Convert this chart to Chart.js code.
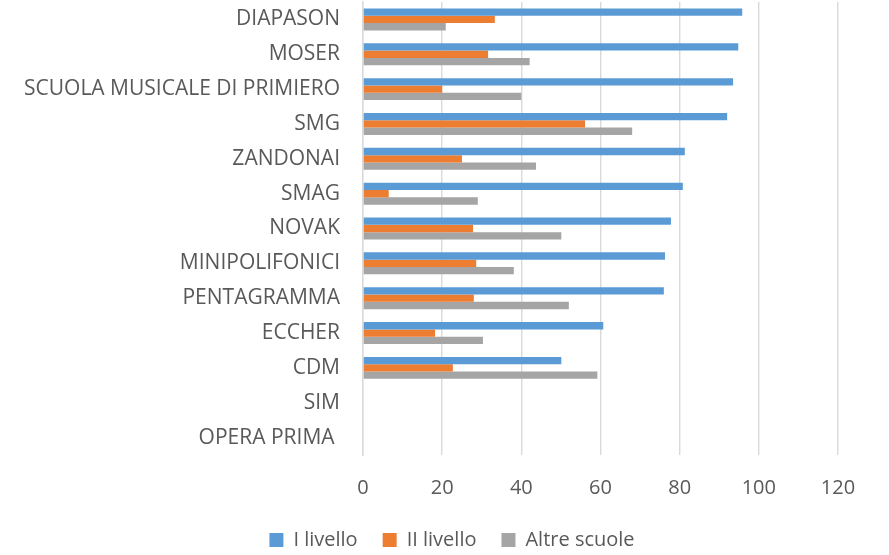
<!DOCTYPE html>
<html>
<head>
<meta charset="utf-8">
<script src="https://cdn.jsdelivr.net/npm/chart.js@4/dist/chart.umd.min.js"></script>
<style>
  html, body { margin: 0; padding: 0; background: #fff; }
  #wrap { width: 889px; height: 555px; }
</style>
</head>
<body>
<div id="wrap"><canvas id="myChart" width="889" height="555"></canvas></div>
<script>
const schools = [
  'DIAPASON', 'MOSER', 'SCUOLA MUSICALE DI PRIMIERO', 'SMG', 'ZANDONAI',
  'SMAG', 'NOVAK', 'MINIPOLIFONICI', 'PENTAGRAMMA', 'ECCHER', 'CDM',
  'SIM', 'OPERA PRIMA ',
];
const livello1 = [95.8, 94.8, 93.5, 92.0, 81.3, 80.8, 77.8, 76.3, 76.0, 60.7, 50.1, null, null];
const livello2 = [33.3, 31.6, 20.0, 56.1, 25.0, 6.5, 27.8, 28.6, 28.0, 18.2, 22.7, null, null];
const altreScuole = [20.9, 42.1, 40.0, 68.0, 43.7, 29.0, 50.1, 38.1, 52.0, 30.3, 59.2, null, null];
const seriesNames = ['I livello', 'II livello', 'Altre scuole'];
const xTicks = [0, 20, 40, 60, 80, 100, 120];

const textColor = '#595959';
const fontFamily = '"Open Sans", sans-serif';

// nudge the legend, Excel puts it lower and further right than chart.js would
const legendShift = {
  id: 'legendShift',
  afterLayout(chart) {
    const l = chart.legend;
    if (!l) return;
    l.top += 4;
    l.bottom += 4;
    l.left += 33;
    l.right += 33;
  },
};

const chartConfig = {
  type: 'bar',
  data: {
    labels: schools,
    datasets: [
      { label: seriesNames[0], data: livello1, backgroundColor: '#5B9BD5' },
      { label: seriesNames[1], data: livello2, backgroundColor: '#ED7D31' },
      { label: seriesNames[2], data: altreScuole, backgroundColor: '#A5A5A5' },
    ],
  },
  options: {
    indexAxis: 'y',
    responsive: false,
    animation: false,
    layout: {
      padding: { top: 2, right: 51, bottom: 0, left: 0 },
    },
    datasets: {
      bar: {
        barPercentage: 1,
        categoryPercentage: 0.63,
      },
    },
    plugins: {
      tooltip: { enabled: false },
      legend: {
        position: 'bottom',
        maxHeight: 54,
        labels: {
          boxWidth: 14,
          boxHeight: 14,
          padding: 25,
          color: textColor,
          font: { family: fontFamily, size: 20 },
        },
      },
    },
    scales: {
      x: {
        min: 0,
        max: 120,
        afterBuildTicks: (scale) => {
          scale.ticks = xTicks.map((v) => ({ value: v }));
        },
        afterFit: (scale) => {
          scale.height = 46;
        },
        grid: {
          color: '#D9D9D9',
          lineWidth: 1.4,
          drawTicks: false,
        },
        border: { display: false },
        ticks: {
          padding: 21,
          color: textColor,
          font: { family: fontFamily, size: 20 },
        },
      },
      y: {
        afterFit: (scale) => {
          scale.width = 363;
          scale.paddingTop = 0;
          scale.paddingBottom = 0;
        },
        grid: { display: false, drawTicks: false },
        border: { display: true, color: '#D9D9D9', width: 1.4 },
        ticks: {
          padding: 23,
          autoSkip: false,
          color: textColor,
          font: { family: fontFamily, size: 21 },
        },
      },
    },
  },
  plugins: [legendShift],
};

const ctx = document.getElementById('myChart');
const myChart = new Chart(ctx, chartConfig);
</script>
</body>
</html>
